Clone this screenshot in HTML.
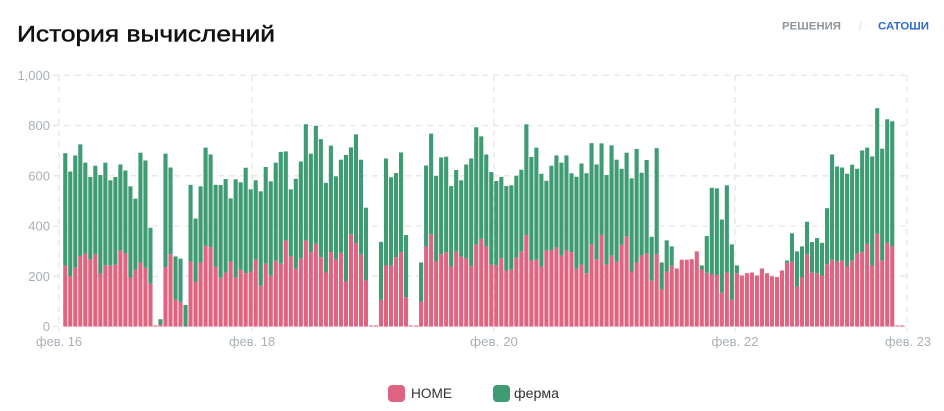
<!DOCTYPE html>
<html><head><meta charset="utf-8">
<style>
html,body{margin:0;padding:0;background:#fff;}
svg{display:block;font-family:"Liberation Sans","DejaVu Sans",sans-serif;}
</style></head>
<body>
<svg width="944" height="411" viewBox="0 0 944 411" xmlns="http://www.w3.org/2000/svg">
<rect width="944" height="411" fill="#fff"/>
<text x="17" y="41.7" font-size="22" fill="#111" stroke="#111" stroke-width="0.45" textLength="258" lengthAdjust="spacingAndGlyphs">История вычислений</text>
<text x="782" y="29.5" font-size="11" font-weight="bold" fill="#8f969c" textLength="59" lengthAdjust="spacingAndGlyphs">РЕШЕНИЯ</text>
<text x="859" y="29.5" font-size="11" fill="#d3d7db">/</text>
<text x="878" y="29.5" font-size="11" font-weight="bold" fill="#2a6bd1" textLength="51" lengthAdjust="spacingAndGlyphs">САТОШИ</text>

<g stroke="#e6e6e6" stroke-width="1.3" stroke-dasharray="6 5" fill="none">
<line x1="53" y1="75.3" x2="907" y2="75.3"/>
<line x1="53" y1="125.5" x2="907" y2="125.5"/>
<line x1="53" y1="175.8" x2="907" y2="175.8"/>
<line x1="53" y1="226" x2="907" y2="226"/>
<line x1="53" y1="276.3" x2="907" y2="276.3"/>
<line x1="53" y1="326.5" x2="907" y2="326.5"/>
<line x1="59" y1="75" x2="59" y2="332"/>
<line x1="252" y1="75" x2="252" y2="332"/>
<line x1="494" y1="75" x2="494" y2="332"/>
<line x1="735" y1="75" x2="735" y2="332"/>
<line x1="907" y1="75" x2="907" y2="332"/>
</g>

<g font-size="13" fill="#a9b0b6" text-anchor="end">
<text x="50" y="80">1,000</text>
<text x="50" y="130">800</text>
<text x="50" y="180.5">600</text>
<text x="50" y="230.5">400</text>
<text x="50" y="281">200</text>
<text x="50" y="331">0</text>
</g>
<g font-size="13" fill="#a9b0b6" text-anchor="middle">
<text x="59" y="346" textLength="46" lengthAdjust="spacingAndGlyphs">фев. 16</text>
<text x="252" y="346" textLength="46" lengthAdjust="spacingAndGlyphs">фев. 18</text>
<text x="494" y="346" textLength="48" lengthAdjust="spacingAndGlyphs">фев. 20</text>
<text x="735" y="346" textLength="47" lengthAdjust="spacingAndGlyphs">фев. 22</text>
<text x="908" y="346" textLength="46" lengthAdjust="spacingAndGlyphs">фев. 23</text>
</g>

<g transform="translate(63.2 326.5) scale(5.012 -0.2512)">
<g fill="#de6482">
<rect x="0" width=".82" height="243"/><rect x="1" width=".82" height="200"/><rect x="2" width=".82" height="234"/><rect x="3" width=".82" height="281"/><rect x="4" width=".82" height="291"/><rect x="5" width=".82" height="267"/><rect x="6" width=".82" height="287"/><rect x="7" width=".82" height="211"/><rect x="8" width=".82" height="244"/><rect x="9" width=".82" height="242"/>
<rect x="10" width=".82" height="246"/><rect x="11" width=".82" height="303"/><rect x="12" width=".82" height="291"/><rect x="13" width=".82" height="195"/><rect x="14" width=".82" height="226"/><rect x="15" width=".82" height="255"/><rect x="16" width=".82" height="234"/><rect x="17" width=".82" height="170"/><rect x="18" width=".82" height="4"/><rect x="19" width=".82" height="8"/>
<rect x="20" width=".82" height="236"/><rect x="21" width=".82" height="288"/><rect x="22" width=".82" height="106"/><rect x="23" width=".82" height="97"/><rect x="25" width=".82" height="258"/><rect x="26" width=".82" height="177"/><rect x="27" width=".82" height="255"/><rect x="28" width=".82" height="321"/><rect x="29" width=".82" height="316"/>
<rect x="30" width=".82" height="238"/><rect x="31" width=".82" height="194"/><rect x="32" width=".82" height="215"/><rect x="33" width=".82" height="258"/><rect x="34" width=".82" height="194"/><rect x="35" width=".82" height="226"/><rect x="36" width=".82" height="212"/><rect x="37" width=".82" height="219"/><rect x="38" width=".82" height="266"/><rect x="39" width=".82" height="162"/>
<rect x="40" width=".82" height="250"/><rect x="41" width=".82" height="202"/><rect x="42" width=".82" height="263"/><rect x="43" width=".82" height="250"/><rect x="44" width=".82" height="343"/><rect x="45" width=".82" height="279"/><rect x="46" width=".82" height="230"/><rect x="47" width=".82" height="270"/><rect x="48" width=".82" height="343"/><rect x="49" width=".82" height="296"/>
<rect x="50" width=".82" height="329"/><rect x="51" width=".82" height="276"/><rect x="52" width=".82" height="215"/><rect x="53" width=".82" height="296"/><rect x="54" width=".82" height="266"/><rect x="55" width=".82" height="293"/><rect x="56" width=".82" height="179"/><rect x="57" width=".82" height="367"/><rect x="58" width=".82" height="332"/><rect x="59" width=".82" height="287"/>
<rect x="60" width=".82" height="183"/><rect x="61" width=".82" height="4"/><rect x="62" width=".82" height="4"/><rect x="63" width=".82" height="106"/><rect x="64" width=".82" height="243"/><rect x="65" width=".82" height="242"/><rect x="66" width=".82" height="276"/><rect x="67" width=".82" height="296"/><rect x="68" width=".82" height="117"/><rect x="69" width=".82" height="4"/>
<rect x="70" width=".82" height="4"/><rect x="71" width=".82" height="98"/><rect x="72" width=".82" height="319"/><rect x="73" width=".82" height="367"/><rect x="74" width=".82" height="259"/><rect x="75" width=".82" height="287"/><rect x="76" width=".82" height="296"/><rect x="77" width=".82" height="239"/><rect x="78" width=".82" height="299"/><rect x="79" width=".82" height="279"/>
<rect x="80" width=".82" height="270"/><rect x="81" width=".82" height="240"/><rect x="82" width=".82" height="327"/><rect x="83" width=".82" height="349"/><rect x="84" width=".82" height="319"/><rect x="85" width=".82" height="247"/><rect x="86" width=".82" height="244"/><rect x="87" width=".82" height="272"/><rect x="88" width=".82" height="223"/><rect x="89" width=".82" height="226"/>
<rect x="90" width=".82" height="274"/><rect x="91" width=".82" height="299"/><rect x="92" width=".82" height="364"/><rect x="93" width=".82" height="263"/><rect x="94" width=".82" height="266"/><rect x="95" width=".82" height="239"/><rect x="96" width=".82" height="303"/><rect x="97" width=".82" height="303"/><rect x="98" width=".82" height="315"/><rect x="99" width=".82" height="282"/>
<rect x="100" width=".82" height="303"/><rect x="101" width=".82" height="296"/><rect x="102" width=".82" height="230"/><rect x="103" width=".82" height="247"/><rect x="104" width=".82" height="212"/><rect x="105" width=".82" height="327"/><rect x="106" width=".82" height="266"/><rect x="107" width=".82" height="365"/><rect x="108" width=".82" height="247"/><rect x="109" width=".82" height="282"/>
<rect x="110" width=".82" height="259"/><rect x="111" width=".82" height="325"/><rect x="112" width=".82" height="359"/><rect x="113" width=".82" height="219"/><rect x="114" width=".82" height="255"/><rect x="115" width=".82" height="283"/><rect x="116" width=".82" height="291"/><rect x="117" width=".82" height="182"/><rect x="118" width=".82" height="288"/><rect x="119" width=".82" height="147"/>
<rect x="120" width=".82" height="218"/><rect x="121" width=".82" height="242"/><rect x="122" width=".82" height="231"/><rect x="123" width=".82" height="266"/><rect x="124" width=".82" height="266"/><rect x="125" width=".82" height="268"/><rect x="126" width=".82" height="299"/><rect x="127" width=".82" height="227"/><rect x="128" width=".82" height="214"/><rect x="129" width=".82" height="207"/>
<rect x="130" width=".82" height="205"/><rect x="131" width=".82" height="134"/><rect x="132" width=".82" height="215"/><rect x="133" width=".82" height="106"/><rect x="134" width=".82" height="212"/><rect x="135" width=".82" height="203"/><rect x="136" width=".82" height="212"/><rect x="137" width=".82" height="215"/><rect x="138" width=".82" height="203"/><rect x="139" width=".82" height="231"/>
<rect x="140" width=".82" height="212"/><rect x="141" width=".82" height="200"/><rect x="142" width=".82" height="197"/><rect x="143" width=".82" height="223"/><rect x="144" width=".82" height="254"/><rect x="145" width=".82" height="258"/><rect x="146" width=".82" height="159"/><rect x="147" width=".82" height="197"/><rect x="148" width=".82" height="287"/><rect x="149" width=".82" height="214"/>
<rect x="150" width=".82" height="212"/><rect x="151" width=".82" height="203"/><rect x="152" width=".82" height="248"/><rect x="153" width=".82" height="266"/><rect x="154" width=".82" height="258"/><rect x="155" width=".82" height="263"/><rect x="156" width=".82" height="239"/><rect x="157" width=".82" height="262"/><rect x="158" width=".82" height="290"/><rect x="159" width=".82" height="296"/>
<rect x="160" width=".82" height="329"/><rect x="161" width=".82" height="243"/><rect x="162" width=".82" height="369"/><rect x="163" width=".82" height="262"/><rect x="164" width=".82" height="333"/><rect x="165" width=".82" height="319"/><rect x="166" width=".82" height="4"/><rect x="167" width=".82" height="4"/>
</g>
<g fill="#3f9b74">
<rect x="0" y="243" width=".82" height="447"/><rect x="1" y="200" width=".82" height="417"/><rect x="2" y="234" width=".82" height="447"/><rect x="3" y="281" width=".82" height="444"/><rect x="4" y="291" width=".82" height="361"/><rect x="5" y="267" width=".82" height="328"/><rect x="6" y="287" width=".82" height="353"/><rect x="7" y="211" width=".82" height="392"/><rect x="8" y="244" width=".82" height="408"/><rect x="9" y="242" width=".82" height="340"/>
<rect x="10" y="246" width=".82" height="349"/><rect x="11" y="303" width=".82" height="342"/><rect x="12" y="291" width=".82" height="330"/><rect x="13" y="195" width=".82" height="363"/><rect x="14" y="226" width=".82" height="283"/><rect x="15" y="255" width=".82" height="437"/><rect x="16" y="234" width=".82" height="427"/><rect x="17" y="170" width=".82" height="223"/><rect x="19" y="8" width=".82" height="21"/>
<rect x="20" y="236" width=".82" height="452"/><rect x="21" y="288" width=".82" height="345"/><rect x="22" y="106" width=".82" height="173"/><rect x="23" y="97" width=".82" height="173"/><rect x="24" y="0" width=".82" height="86"/><rect x="25" y="258" width=".82" height="306"/><rect x="26" y="177" width=".82" height="253"/><rect x="27" y="255" width=".82" height="303"/><rect x="28" y="321" width=".82" height="391"/><rect x="29" y="316" width=".82" height="369"/>
<rect x="30" y="238" width=".82" height="326"/><rect x="31" y="194" width=".82" height="369"/><rect x="32" y="215" width=".82" height="372"/><rect x="33" y="258" width=".82" height="252"/><rect x="34" y="194" width=".82" height="392"/><rect x="35" y="226" width=".82" height="348"/><rect x="36" y="212" width=".82" height="420"/><rect x="37" y="219" width=".82" height="327"/><rect x="38" y="266" width=".82" height="316"/><rect x="39" y="162" width=".82" height="376"/>
<rect x="40" y="250" width=".82" height="385"/><rect x="41" y="202" width=".82" height="376"/><rect x="42" y="263" width=".82" height="389"/><rect x="43" y="250" width=".82" height="445"/><rect x="44" y="343" width=".82" height="354"/><rect x="45" y="279" width=".82" height="267"/><rect x="46" y="230" width=".82" height="358"/><rect x="47" y="270" width=".82" height="387"/><rect x="48" y="343" width=".82" height="462"/><rect x="49" y="296" width=".82" height="392"/>
<rect x="50" y="329" width=".82" height="470"/><rect x="51" y="276" width=".82" height="470"/><rect x="52" y="215" width=".82" height="357"/><rect x="53" y="296" width=".82" height="424"/><rect x="54" y="266" width=".82" height="332"/><rect x="55" y="293" width=".82" height="371"/><rect x="56" y="179" width=".82" height="504"/><rect x="57" y="367" width=".82" height="346"/><rect x="58" y="332" width=".82" height="433"/><rect x="59" y="287" width=".82" height="377"/>
<rect x="60" y="183" width=".82" height="290"/><rect x="63" y="106" width=".82" height="231"/><rect x="64" y="243" width=".82" height="426"/><rect x="65" y="242" width=".82" height="352"/><rect x="66" y="276" width=".82" height="335"/><rect x="67" y="296" width=".82" height="397"/><rect x="68" y="117" width=".82" height="247"/>
<rect x="71" y="98" width=".82" height="157"/><rect x="72" y="319" width=".82" height="322"/><rect x="73" y="367" width=".82" height="401"/><rect x="74" y="259" width=".82" height="341"/><rect x="75" y="287" width=".82" height="386"/><rect x="76" y="296" width=".82" height="380"/><rect x="77" y="239" width=".82" height="320"/><rect x="78" y="299" width=".82" height="324"/><rect x="79" y="279" width=".82" height="303"/>
<rect x="80" y="270" width=".82" height="375"/><rect x="81" y="240" width=".82" height="429"/><rect x="82" y="327" width=".82" height="466"/><rect x="83" y="349" width=".82" height="408"/><rect x="84" y="319" width=".82" height="366"/><rect x="85" y="247" width=".82" height="368"/><rect x="86" y="244" width=".82" height="335"/><rect x="87" y="272" width=".82" height="323"/><rect x="88" y="223" width=".82" height="336"/><rect x="89" y="226" width=".82" height="336"/>
<rect x="90" y="274" width=".82" height="326"/><rect x="91" y="299" width=".82" height="325"/><rect x="92" y="364" width=".82" height="441"/><rect x="93" y="263" width=".82" height="412"/><rect x="94" y="266" width=".82" height="446"/><rect x="95" y="239" width=".82" height="369"/><rect x="96" y="303" width=".82" height="277"/><rect x="97" y="303" width=".82" height="337"/><rect x="98" y="315" width=".82" height="366"/><rect x="99" y="282" width=".82" height="370"/>
<rect x="100" y="303" width=".82" height="378"/><rect x="101" y="296" width=".82" height="314"/><rect x="102" y="230" width=".82" height="366"/><rect x="103" y="247" width=".82" height="402"/><rect x="104" y="212" width=".82" height="398"/><rect x="105" y="327" width=".82" height="403"/><rect x="106" y="266" width=".82" height="379"/><rect x="107" y="365" width=".82" height="364"/><rect x="108" y="247" width=".82" height="356"/><rect x="109" y="282" width=".82" height="439"/>
<rect x="110" y="259" width=".82" height="405"/><rect x="111" y="325" width=".82" height="303"/><rect x="112" y="359" width=".82" height="333"/><rect x="113" y="219" width=".82" height="371"/><rect x="114" y="255" width=".82" height="452"/><rect x="115" y="283" width=".82" height="329"/><rect x="116" y="291" width=".82" height="372"/><rect x="117" y="182" width=".82" height="175"/><rect x="118" y="288" width=".82" height="422"/><rect x="119" y="147" width=".82" height="108"/>
<rect x="120" y="218" width=".82" height="125"/><rect x="121" y="242" width=".82" height="77"/><rect x="127" y="227" width=".82" height="16"/><rect x="128" y="214" width=".82" height="146"/><rect x="129" y="207" width=".82" height="345"/>
<rect x="130" y="205" width=".82" height="345"/><rect x="131" y="134" width=".82" height="292"/><rect x="132" y="215" width=".82" height="347"/><rect x="133" y="106" width=".82" height="221"/><rect x="134" y="212" width=".82" height="31"/>
<rect x="144" y="254" width=".82" height="9"/><rect x="145" y="258" width=".82" height="113"/><rect x="146" y="159" width=".82" height="140"/><rect x="147" y="197" width=".82" height="122"/><rect x="148" y="287" width=".82" height="130"/><rect x="149" y="214" width=".82" height="122"/>
<rect x="150" y="212" width=".82" height="140"/><rect x="151" y="203" width=".82" height="130"/><rect x="152" y="248" width=".82" height="223"/><rect x="153" y="266" width=".82" height="419"/><rect x="154" y="258" width=".82" height="379"/><rect x="155" y="263" width=".82" height="370"/><rect x="156" y="239" width=".82" height="369"/><rect x="157" y="262" width=".82" height="382"/><rect x="158" y="290" width=".82" height="338"/><rect x="159" y="296" width=".82" height="405"/>
<rect x="160" y="329" width=".82" height="383"/><rect x="161" y="243" width=".82" height="434"/><rect x="162" y="369" width=".82" height="500"/><rect x="163" y="262" width=".82" height="446"/><rect x="164" y="333" width=".82" height="492"/><rect x="165" y="319" width=".82" height="498"/>
</g>
</g>

<rect x="388" y="385" width="17" height="17" rx="4" fill="#de6482"/>
<text x="411" y="398" font-size="13.5" fill="#333" textLength="41" lengthAdjust="spacingAndGlyphs">HOME</text>
<rect x="493" y="385" width="17" height="17" rx="4" fill="#3f9b74"/>
<text x="514" y="398" font-size="13.5" fill="#333" textLength="45" lengthAdjust="spacingAndGlyphs">ферма</text>
</svg>
</body></html>
